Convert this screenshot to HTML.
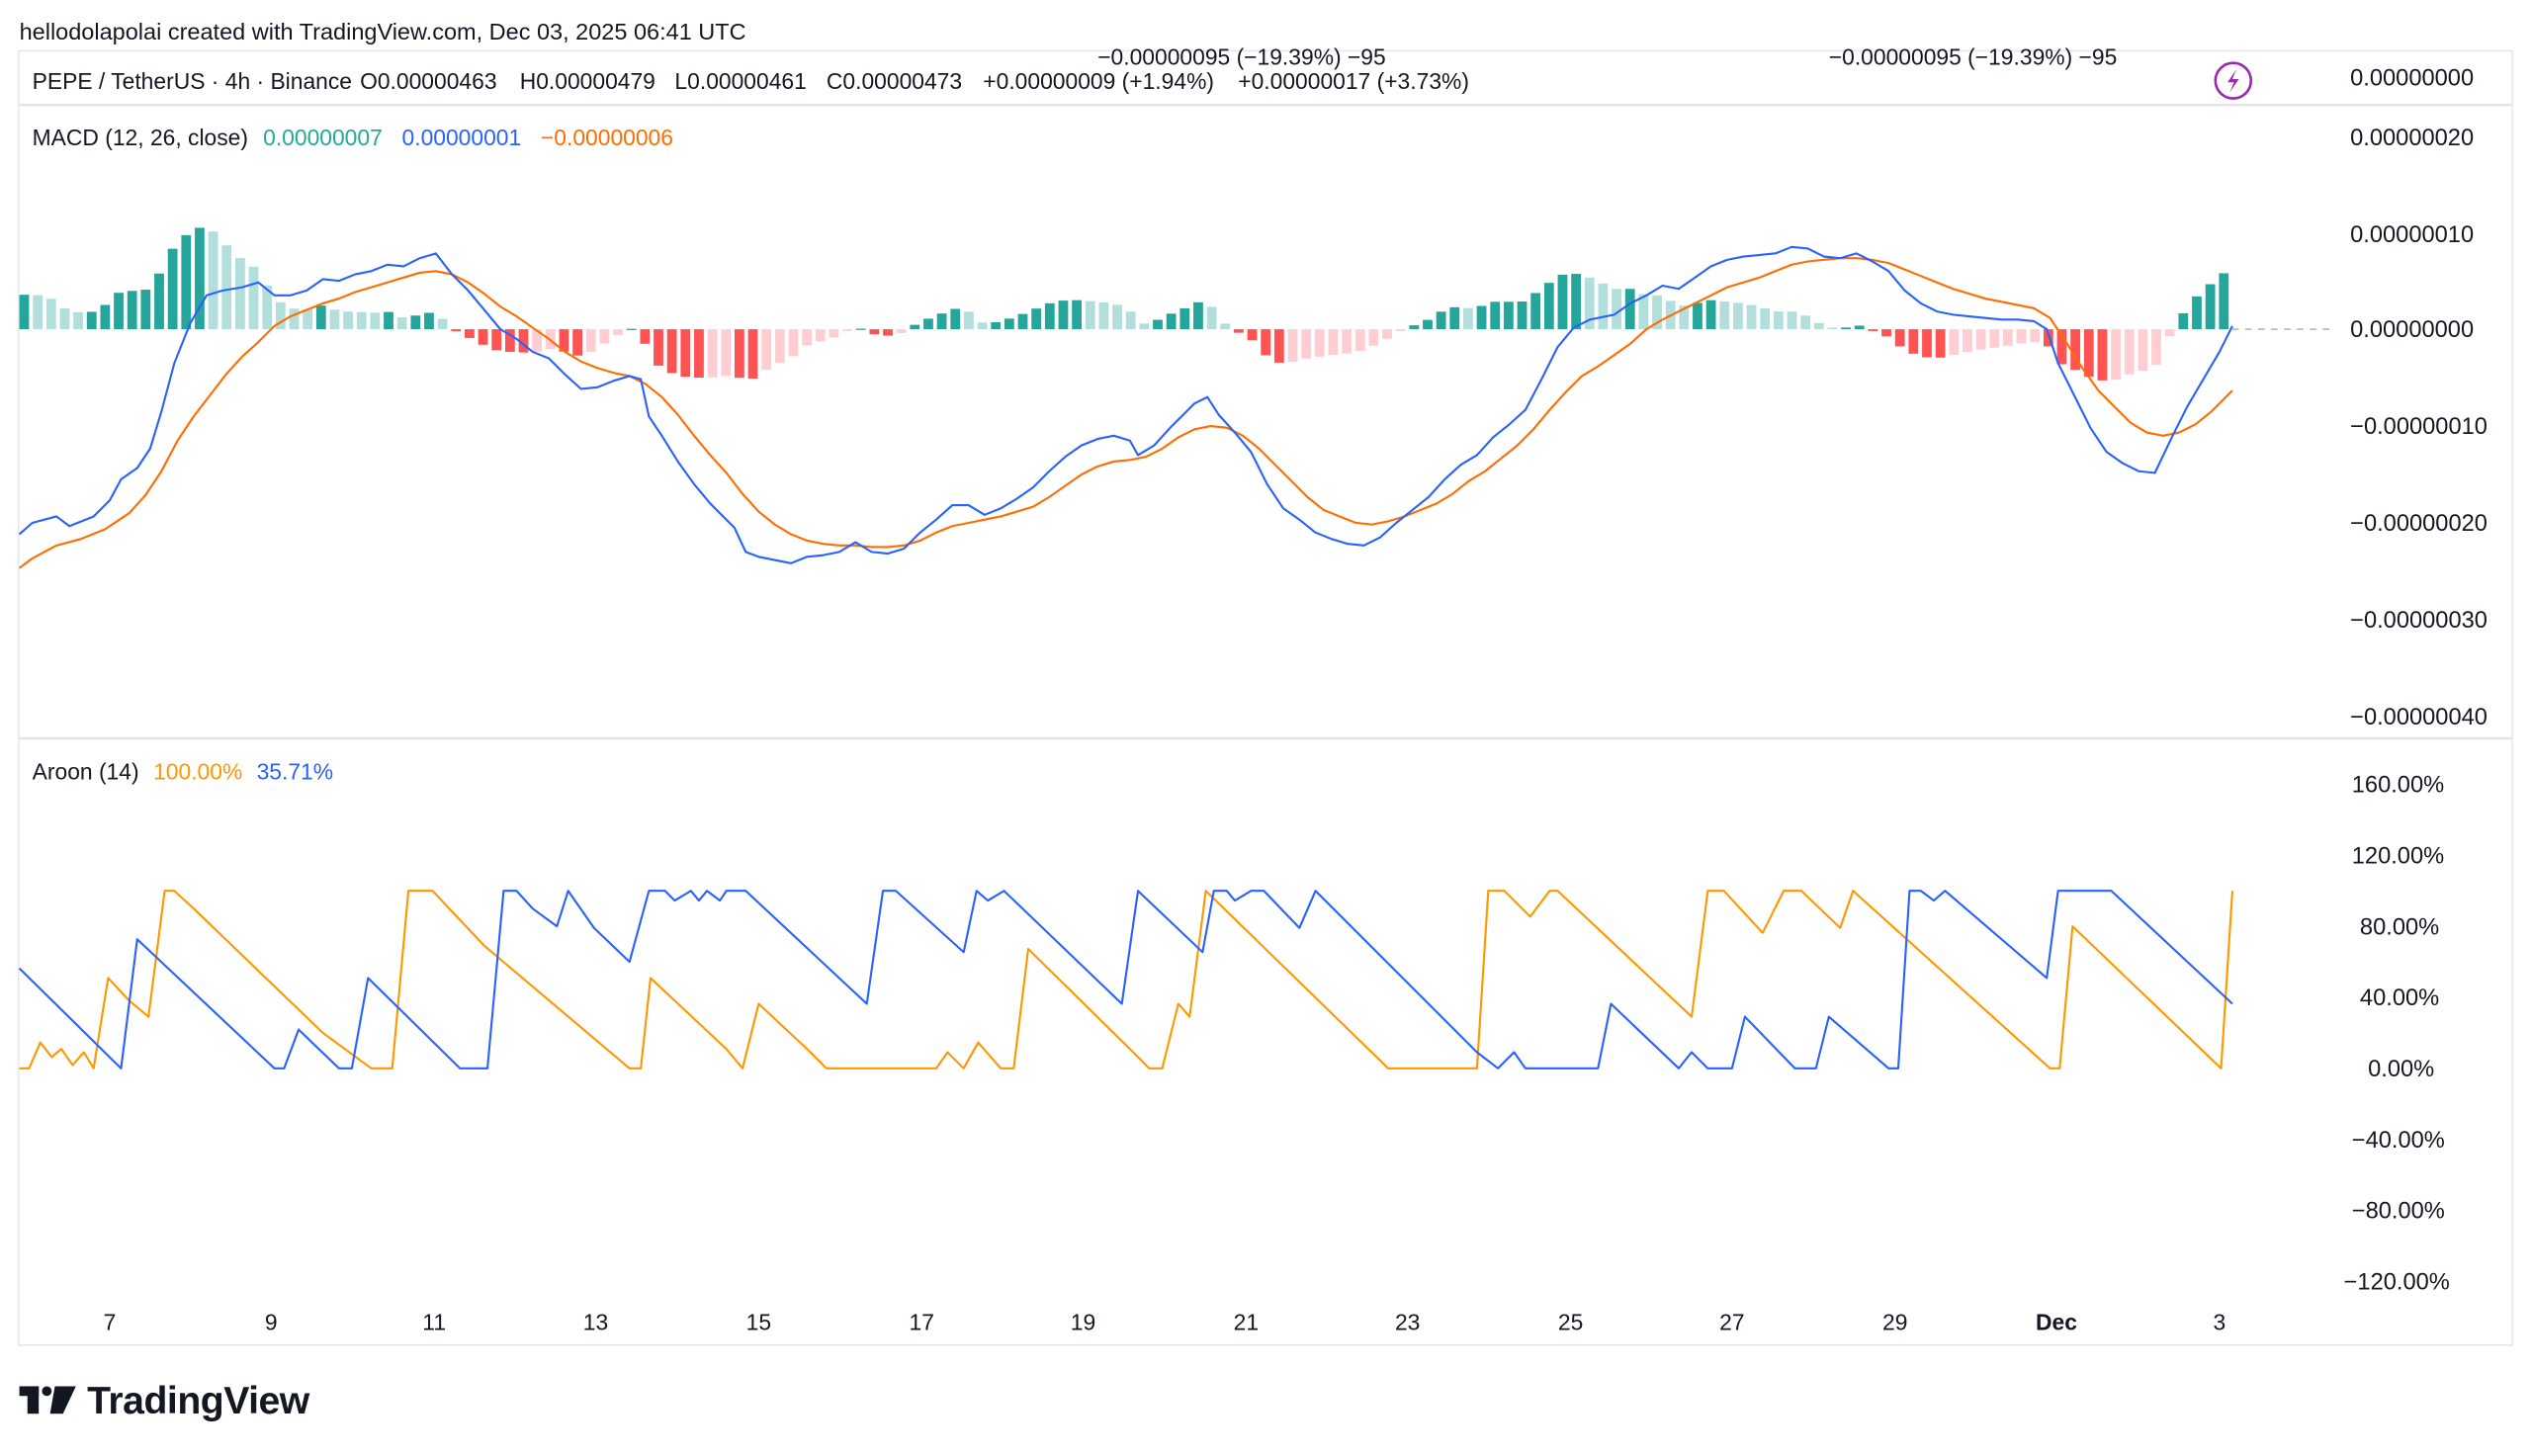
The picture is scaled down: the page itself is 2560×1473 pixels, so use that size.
<!DOCTYPE html>
<html><head><meta charset="utf-8"><style>
html,body{margin:0;padding:0;background:#fff;}
svg{display:block;font-family:"Liberation Sans",sans-serif;}
</style></head><body>
<svg id="s" width="2560" height="1473" viewBox="0 0 1568 902.2" xmlns="http://www.w3.org/2000/svg">
<rect width="1568" height="903" fill="#fff"/>
<text x="12" y="24.5" font-size="14.4" fill="#131722">hellodolapolai created with TradingView.com, Dec 03, 2025 06:41 UTC</text>
<rect x="11.5" y="31.5" width="1545" height="802" fill="none" stroke="#e6e8ee" stroke-width="1"/>
<line x1="11.5" y1="65" x2="1556.5" y2="65" stroke="#e0e3eb" stroke-width="1.5"/>
<line x1="11.5" y1="457.5" x2="1556.5" y2="457.5" stroke="#e0e3eb" stroke-width="1.5"/>
<g font-size="14" fill="#131722">
<text x="20" y="55">PEPE / TetherUS · 4h · Binance</text>
<text x="223" y="55">O0.00000463</text>
<text x="322" y="55">H0.00000479</text>
<text x="418" y="55">L0.00000461</text>
<text x="512" y="55">C0.00000473</text>
<text x="609" y="55">+0.00000009 (+1.94%)</text>
<text x="767" y="55">+0.00000017 (+3.73%)</text>
<text x="680" y="40">−0.00000095 (−19.39%) −95</text>
<text x="1133" y="40">−0.00000095 (−19.39%) −95</text>
<text x="20" y="90">MACD (12, 26, close)</text>
<text x="163" y="90" fill="#22ab94">0.00000007</text>
<text x="249" y="90" fill="#2962ff">0.00000001</text>
<text x="335" y="90" fill="#ff6d00">−0.00000006</text>
<text x="20" y="483">Aroon (14)</text>
<text x="95" y="483" fill="#ff9800">100.00%</text>
<text x="159" y="483" fill="#2962ff">35.71%</text>
</g>
<circle cx="1383.5" cy="50" r="11" fill="none" stroke="#9c27b0" stroke-width="1.6"/>
<path d="M1385.5 43 L1380 51 L1384 51 L1381.5 57 L1387 49 L1383 49 Z" fill="#9c27b0"/>
<g font-size="14.5" fill="#131722">
<text x="1456" y="53">0.00000000</text>
<text x="1456" y="90">0.00000020</text>
<text x="1456" y="150">0.00000010</text>
<text x="1456" y="209">0.00000000</text>
<text x="1456" y="269">−0.00000010</text>
<text x="1456" y="329">−0.00000020</text>
<text x="1456" y="389">−0.00000030</text>
<text x="1456" y="449">−0.00000040</text>
<text x="1457" y="491">160.00%</text>
<text x="1457" y="535">120.00%</text>
<text x="1462" y="579">80.00%</text>
<text x="1462" y="623">40.00%</text>
<text x="1467" y="667">0.00%</text>
<text x="1457" y="711">−40.00%</text>
<text x="1457" y="755">−80.00%</text>
<text x="1452" y="799">−120.00%</text>
</g>
<g font-size="14" fill="#131722" text-anchor="middle">
<text x="68" y="824">7</text><text x="168" y="824">9</text><text x="269" y="824">11</text><text x="369" y="824">13</text>
<text x="470" y="824">15</text><text x="571" y="824">17</text><text x="671" y="824">19</text><text x="772" y="824">21</text>
<text x="872" y="824">23</text><text x="973" y="824">25</text><text x="1073" y="824">27</text><text x="1174" y="824">29</text>
<text x="1274" y="824" font-weight="bold">Dec</text><text x="1375" y="824">3</text>
</g>
<line x1="1383" y1="204" x2="1447" y2="204" stroke="#b2b5be" stroke-dasharray="4 4" stroke-width="1"/>
<g id="hist"></g>
<g id="lines"></g>
<g fill="#131722">
<rect x="12" y="859" width="12" height="6"/><rect x="17" y="859" width="7" height="17"/>
<circle cx="29" cy="862" r="3"/>
<path d="M34 859 L47 859 L39 876 L31 876 Z"/>
</g>
<text x="54" y="876" font-size="24" font-weight="bold" fill="#131722" letter-spacing="-0.3">TradingView</text>
</svg>
<script>
var blue=[[12,331],[20,324],[35,320],[43,326],[58,320],[68,310],[75,297],[85,290],[93,278],[100,255],[108,225],[118,200],[128,183],[138,180],[150,178],[160,175],[170,183],[180,183],[190,180],[200,173],[210,174],[220,170],[230,168],[240,164],[250,165],[260,160],[270,157],[280,170],[290,180],[300,192],[310,204],[320,210],[330,218],[340,222],[350,232],[360,241],[370,240],[380,236],[390,233],[397,235],[402,258],[410,270],[420,286],[430,300],[440,312],[450,322],[455,327],[462,342],[470,345],[480,347],[490,349],[500,345],[510,344],[520,342],[530,336],[540,342],[550,343],[560,340],[570,330],[580,322],[590,313],[600,313],[610,319],[620,315],[630,309],[640,302],[650,292],[660,283],[670,276],[680,272],[690,270],[700,273],[705,282],[715,276],[725,265],[735,255],[740,250],[748,246],[755,257],[765,268],[775,280],[785,300],[795,315],[805,322],[815,330],[825,334],[835,337],[845,338],[855,333],[865,324],[875,316],[885,308],[895,297],[905,288],[915,282],[925,271],[935,263],[945,254],[955,235],[965,215],[975,203],[985,198],[1000,195],[1010,188],[1020,183],[1030,177],[1040,179],[1050,172],[1060,165],[1070,161],[1080,159],[1090,158],[1100,157],[1110,153],[1120,154],[1130,159],[1140,160],[1150,157],[1160,162],[1170,168],[1180,180],[1190,188],[1200,193],[1210,195],[1220,196],[1230,197],[1240,198],[1250,198],[1260,199],[1268,204],[1275,225],[1285,245],[1295,265],[1305,280],[1315,287],[1325,292],[1335,293],[1345,272],[1355,252],[1365,235],[1375,218],[1383,202]];
var orange=[[12,352],[20,346],[35,338],[50,334],[65,328],[80,318],[90,307],[100,292],[110,273],[120,258],[130,245],[140,232],[150,221],[160,212],[170,202],[180,196],[190,192],[200,188],[210,185],[220,181],[230,178],[240,175],[250,172],[260,169],[270,168],[280,170],[290,175],[300,182],[310,190],[320,196],[330,203],[340,210],[350,218],[360,224],[370,228],[380,231],[390,233],[400,238],[410,246],[420,257],[430,270],[440,282],[450,293],[460,306],[470,317],[480,325],[490,331],[500,335],[510,337],[520,338],[530,338],[540,339],[550,339],[560,338],[570,335],[580,330],[590,326],[600,324],[610,322],[620,320],[630,317],[640,314],[650,308],[660,301],[670,294],[680,289],[690,286],[700,285],[710,283],[720,278],[730,271],[740,266],[750,264],[760,265],[770,270],[780,278],[790,288],[800,298],[810,308],[820,316],[830,320],[840,324],[850,325],[860,323],[870,320],[880,316],[890,312],[900,306],[910,298],[920,292],[930,284],[940,276],[950,266],[960,254],[970,243],[980,233],[990,227],[1000,220],[1010,213],[1020,204],[1030,198],[1040,193],[1050,188],[1060,183],[1070,178],[1080,175],[1090,172],[1100,168],[1110,164],[1120,162],[1130,161],[1140,160],[1150,160],[1160,161],[1170,163],[1180,167],[1190,171],[1200,175],[1210,179],[1220,182],[1230,185],[1240,187],[1250,189],[1260,191],[1270,197],[1280,212],[1290,228],[1300,242],[1310,252],[1320,262],[1330,268],[1340,270],[1350,268],[1360,263],[1370,255],[1383,242]];
var aup=[[12,662],[18,662],[25,646],[32,655],[38,650],[45,660],[52,652],[58,662],[67,606],[80,620],[92,630],[102,552],[108,552],[120,563],[200,640],[230,662],[243,662],[253,552],[268,552],[300,586],[390,662],[397,662],[403,606],[450,650],[460,662],[470,622],[500,650],[512,662],[580,662],[587,652],[597,662],[606,646],[620,662],[628,662],[637,588],[700,650],[712,662],[720,662],[730,622],[737,630],[747,552],[860,662],[915,662],[922,552],[932,552],[948,568],[960,552],[965,552],[1048,630],[1058,552],[1068,552],[1092,578],[1105,552],[1116,552],[1140,575],[1148,552],[1270,662],[1276,662],[1284,574],[1376,662],[1383,552]];
var adn=[[12,600],[75,662],[85,582],[170,662],[176,662],[185,638],[210,662],[218,662],[228,606],[285,662],[302,662],[312,552],[320,552],[330,563],[345,574],[352,552],[368,575],[390,596],[402,552],[412,552],[418,558],[428,552],[433,558],[438,552],[446,558],[450,552],[462,552],[537,622],[547,552],[555,552],[597,590],[605,552],[612,558],[622,552],[695,622],[705,552],[745,590],[752,552],[760,552],[765,558],[775,552],[783,552],[805,575],[815,552],[915,652],[928,662],[938,652],[945,662],[990,662],[998,622],[1040,662],[1048,652],[1058,662],[1073,662],[1081,630],[1112,662],[1125,662],[1133,630],[1170,662],[1176,662],[1183,552],[1190,552],[1198,558],[1205,552],[1268,606],[1275,552],[1308,552],[1383,622]];
function interp(a,x){for(var i=1;i<a.length;i++){if(x<=a[i][0]){var t=(x-a[i-1][0])/(a[i][0]-a[i-1][0]);return a[i-1][1]+t*(a[i][1]-a[i-1][1]);}}return a[a.length-1][1];}
var h=document.getElementById('hist'),L=document.getElementById('lines');
var step=8.36,prev=null,out='';
for(var x=15;x<=1385;x+=step){var d=interp(orange,x)-interp(blue,x);var c;
if(d>=0){c=(prev===null||d>=prev)?'#26a69a':'#b2dfdb';}else{c=(prev===null||d<=prev)?'#ff5252':'#ffcdd2';}
prev=d;var y=d>=0?204-d:204;out+='<rect x="'+(x-3).toFixed(2)+'" y="'+y.toFixed(2)+'" width="6" height="'+Math.max(Math.abs(d),0.8).toFixed(2)+'" fill="'+c+'"/>';}
h.innerHTML=out;
function pl(a,c){return '<polyline fill="none" stroke="'+c+'" stroke-width="1.3" stroke-linejoin="round" points="'+a.map(function(p){return p.join(',')}).join(' ')+'"/>';}
L.innerHTML=pl(orange,'#ff6d00')+pl(blue,'#2962ff')+pl(aup,'#ff9800')+pl(adn,'#2962ff');
</script>
</body></html>
